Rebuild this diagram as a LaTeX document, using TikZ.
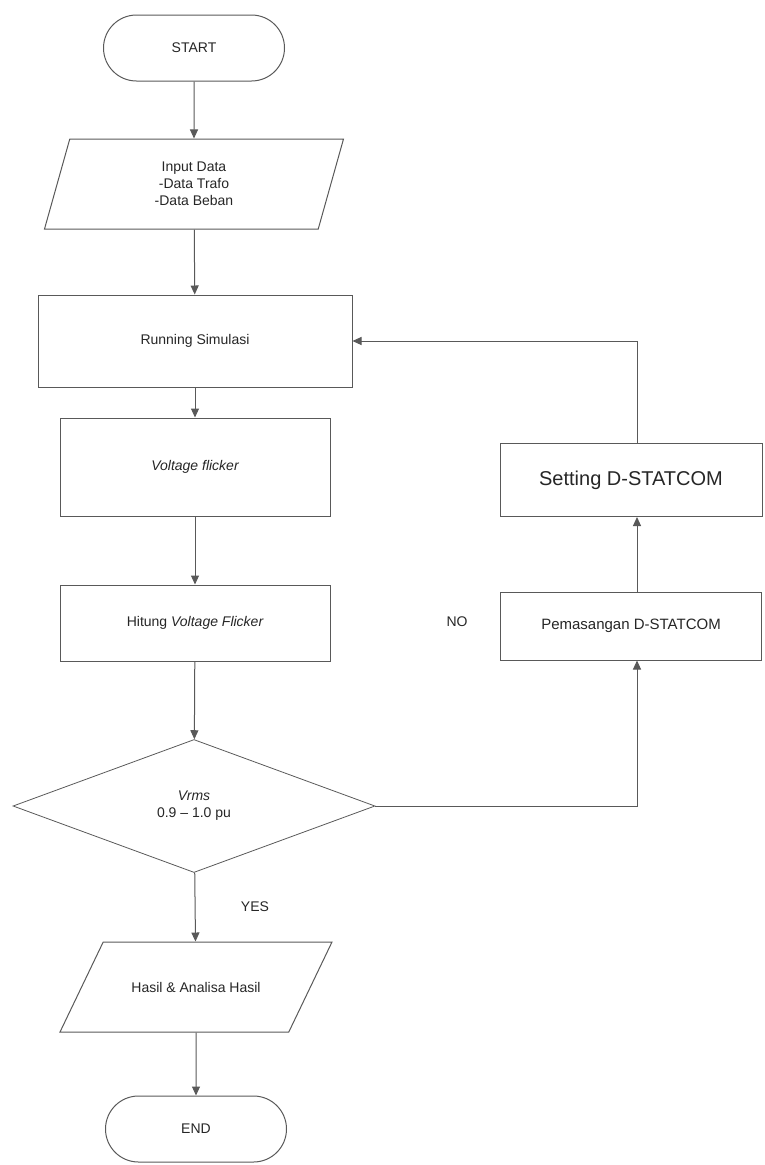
\documentclass[tikz,border=0pt]{standalone}
\usepackage{fontspec}
\setmainfont{Liberation Sans}
\usetikzlibrary{shapes.geometric,shapes.misc,arrows.meta,calc}
\begin{document}
\begin{tikzpicture}[x=1pt,y=-1pt,
  every node/.style={text=black!85, font=\fontsize{14}{17}\selectfont, align=center, inner sep=0pt, line width=1pt, draw=black!65},
  term/.style={rounded rectangle, minimum width=181pt, minimum height=66pt},
  io/.style n args={2}{trapezium, trapezium left angle=#1, trapezium right angle=#2, trapezium stretches body, minimum height=90pt},
  proc/.style={rectangle},
  dec/.style={diamond, minimum width=362pt, minimum height=133pt, line width=0.8pt},
  lbl/.style={draw=none},
  conn/.style={draw=black!65, line width=1pt, -{Triangle[length=9pt,width=8pt]}}
]
\useasboundingbox (0,0) rectangle (764,1165);
\node[term] (start) at (194,48) {START};
\node[io={60}{120}, minimum width=299pt] (input) at (194,184) {Input Data\\-Data Trafo\\-Data Beban};
\node[proc, minimum width=314pt, minimum height=92pt] (run) at (195,341) {Running Simulasi};
\node[proc, minimum width=270pt, minimum height=98pt] (vf) at (195,467) {\itshape Voltage flicker};
\node[proc, minimum width=270pt, minimum height=76pt] (hit) at (195,623) {Hitung \itshape Voltage Flicker};
\node[dec] (d) at (194,806) {\itshape Vrms\\0.9 -- 1.0 pu};
\node[io={63.4}{116.6}, minimum width=272pt, inner ysep=38pt] (hasil) at (196,987) {Hasil \& Analisa Hasil};
\node[term] (end) at (196,1129) {END};
\node[proc, minimum width=262pt, minimum height=73pt, font=\fontsize{20}{24}\selectfont] (set) at (631,480) {Setting D-STATCOM};
\node[proc, minimum width=261pt, minimum height=68pt, font=\fontsize{15}{18}\selectfont] (pem) at (631,626) {Pemasangan D-STATCOM};
\node[lbl] (no) at (457,622) {NO};
\node[lbl] (yes) at (255,907) {YES};
\coordinate (px) at (637,0);
\draw[conn] (start) -- (input);
\draw[conn] (input) -- (run);
\draw[conn] (run) -- (vf);
\draw[conn] (vf) -- (hit);
\draw[conn] (hit) -- (d);
\draw[conn] (d) -- (hasil);
\draw[conn] (hasil) -- (end);
\draw[conn] (d.east) -| (pem.south -| px);
\draw[conn] (pem.north -| px) -- (set.south -| px);
\draw[conn] (set.north -| px) |- (run.east);
\end{tikzpicture}
\end{document}
